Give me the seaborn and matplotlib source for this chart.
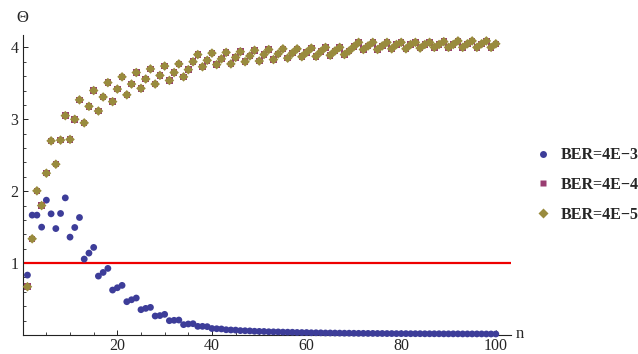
import matplotlib
matplotlib.use("Agg")
import matplotlib.pyplot as plt
import numpy as np
import pandas as pd
import seaborn as sns
from matplotlib.lines import Line2D
from matplotlib.ticker import MultipleLocator, FixedLocator

# ---------------- data ----------------
n_values = list(range(1, 101))

ber_4e3 = [0.833, 1.667, 1.667, 1.50, 1.875, 1.685, 1.48, 1.69, 1.907, 1.361,
           1.495, 1.634, 1.056, 1.139, 1.218, 0.819, 0.87, 0.926, 0.625, 0.657,
           0.69, 0.463, 0.49, 0.514, 0.352, 0.37, 0.384, 0.264, 0.27, 0.287,
           0.199, 0.204, 0.208, 0.144, 0.153, 0.157, 0.120, 0.120, 0.116,
           0.090, 0.087, 0.084, 0.073, 0.070, 0.068, 0.061, 0.059, 0.057,
           0.052, 0.050, 0.049, 0.045, 0.044, 0.043, 0.040, 0.039, 0.038,
           0.035, 0.034, 0.034, 0.031, 0.031, 0.030, 0.028, 0.028, 0.027,
           0.026, 0.025, 0.025, 0.024, 0.023, 0.023, 0.022, 0.022, 0.021,
           0.021, 0.020, 0.020, 0.019, 0.019, 0.019, 0.018, 0.018, 0.018,
           0.017, 0.017, 0.017, 0.017, 0.016, 0.016, 0.016, 0.016, 0.015,
           0.015, 0.015, 0.015, 0.015, 0.014, 0.014, 0.014]

ber_4e4 = [0.671, 1.338, 2.005, 1.80, 2.25, 2.70, 2.375, 2.71, 3.05, 2.72,
           3.00, 3.27, 2.95, 3.18, 3.40, 3.115, 3.31, 3.51, 3.245, 3.42,
           3.59, 3.34, 3.49, 3.65, 3.43, 3.56, 3.70, 3.49, 3.61, 3.74,
           3.54, 3.65, 3.77, 3.59, 3.69, 3.80, 3.90, 3.73, 3.82, 3.92,
           3.76, 3.84, 3.93, 3.77, 3.86, 3.94, 3.80, 3.88, 3.96, 3.81,
           3.90, 3.97, 3.83, 3.91, 3.98, 3.85, 3.92, 3.98, 3.87, 3.93,
           3.99, 3.875, 3.94, 4.00, 3.89, 3.95, 4.00, 3.90, 3.95, 4.01,
           4.07, 3.97, 4.02, 4.07, 3.97, 4.02, 4.07, 3.98, 4.04, 4.07,
           3.98, 4.04, 4.07, 3.99, 4.04, 4.07, 4.00, 4.04, 4.08, 4.00,
           4.04, 4.09, 4.00, 4.05, 4.09, 4.00, 4.05, 4.09, 4.00, 4.05]

ber_4e5 = [0.671, 1.338, 2.005, 1.80, 2.25, 2.70, 2.375, 2.71, 3.05, 2.72,
           3.00, 3.27, 2.95, 3.18, 3.40, 3.115, 3.31, 3.51, 3.245, 3.42,
           3.59, 3.34, 3.49, 3.65, 3.43, 3.56, 3.70, 3.49, 3.61, 3.74,
           3.54, 3.65, 3.77, 3.59, 3.69, 3.80, 3.90, 3.73, 3.82, 3.92,
           3.76, 3.84, 3.93, 3.77, 3.86, 3.94, 3.80, 3.88, 3.96, 3.81,
           3.90, 3.97, 3.83, 3.91, 3.98, 3.85, 3.92, 3.98, 3.87, 3.93,
           3.99, 3.875, 3.94, 4.00, 3.89, 3.95, 4.00, 3.90, 3.95, 4.01,
           4.07, 3.97, 4.02, 4.07, 3.97, 4.02, 4.07, 3.98, 4.04, 4.07,
           3.98, 4.04, 4.07, 3.99, 4.04, 4.07, 4.00, 4.04, 4.08, 4.00,
           4.04, 4.09, 4.00, 4.05, 4.09, 4.00, 4.05, 4.09, 4.00, 4.05]

labels = ["BER=4E\u22123", "BER=4E\u22124", "BER=4E\u22125"]
threshold = 1.0
x_ticks = [20, 40, 60, 80, 100]
y_ticks = [1, 2, 3, 4]

# ---------------- style ----------------
sns.set_style("white")
plt.rcParams["font.family"] = ["Liberation Serif", "DejaVu Serif"]

colors = ["#3d3d99", "#993d71", "#998b3d"]
markers = ["o", "s", "D"]
sizes = [24, 22, 24]

fig = plt.figure(figsize=(6.38, 3.54), dpi=100)
ax = fig.add_axes([0.0356, 0.0537, 0.766, 0.847])

series = [ber_4e3, ber_4e4, ber_4e5]
for vals, c, m, s, lab in zip(series, colors, markers, sizes, labels):
    df = pd.DataFrame({"n": n_values, "theta": vals})
    sns.scatterplot(data=df, x="n", y="theta", marker=m, s=s, color=c,
                    edgecolor="none", linewidth=0, ax=ax, legend=False,
                    zorder=3, clip_on=False)

ax.axhline(threshold, color="#ee0000", lw=1.6, zorder=2)

ax.set_xlim(0, 103.3)
ax.set_ylim(0, 4.17)
ax.set_xlabel("")
ax.set_ylabel("")

for side in ["top", "right"]:
    ax.spines[side].set_visible(False)
for side in ["left", "bottom"]:
    ax.spines[side].set_color("#222222")
    ax.spines[side].set_linewidth(0.8)

ax.xaxis.set_major_locator(FixedLocator(x_ticks))
ax.xaxis.set_minor_locator(MultipleLocator(5))
ax.yaxis.set_major_locator(FixedLocator(y_ticks))
ax.yaxis.set_minor_locator(MultipleLocator(0.2))
ax.tick_params(axis="both", which="major", direction="in", length=3.6,
               width=0.7, color="#222222", labelsize=11.5)
ax.tick_params(axis="both", which="minor", direction="in", length=2.2,
               width=0.6, color="#222222")
ax.tick_params(axis="x", which="major", pad=2.5)
ax.tick_params(axis="y", which="major", pad=3)
ax.tick_params(axis="both", which="both", bottom=True, left=True)

fig.text(22 / 638, 1 - 18 / 354, "\u0398", ha="center", va="center",
         fontsize=12)
fig.text(516 / 638, 1 - 334 / 354, "n", ha="left", va="center",
         fontsize=12)

handles = [Line2D([0], [0], marker=m, color="none", markerfacecolor=c,
                  markeredgecolor="none", markersize=ms)
           for m, c, ms in zip(markers, colors, [5, 4.5, 5])]
fig.legend(handles, labels, loc="center left",
           bbox_to_anchor=(535 / 638, 1 - 185 / 354), frameon=False,
           prop={"family": "Liberation Serif", "weight": "bold", "size": 11.5},
           handlelength=1.0, handletextpad=0.6, labelspacing=0.85,
           borderaxespad=0, borderpad=0)

fig.savefig("out.png", dpi=100)
